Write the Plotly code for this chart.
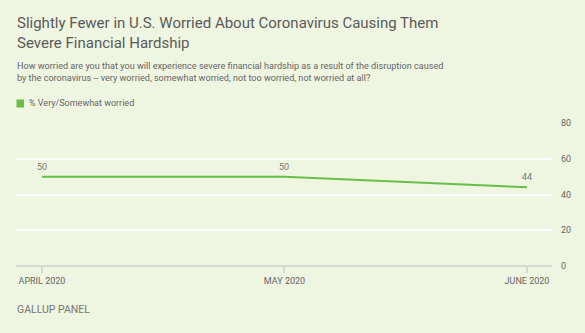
import plotly.graph_objects as go

categories = ["APRIL 2020", "MAY 2020", "JUNE 2020"]
values = [50, 50, 44]
y_ticks = [0, 20, 40, 60, 80]
series_name = "% Very/Somewhat worried"

title_lines = ["Slightly Fewer in U.S. Worried About Coronavirus Causing Them",
               "Severe Financial Hardship"]
subtitle_lines = ["How worried are you that you will experience severe financial hardship as a result of the disruption caused",
                  "by the coronavirus -- very worried, somewhat worried, not too worried, not worried at all?"]
footer = "GALLUP PANEL"

BG = "#EEF5E0"
GREEN = "#66BF48"
TXT = "#666666"
FONT = "Roboto"

xs = list(range(len(categories)))

fig = go.Figure()
fig.add_trace(go.Scatter(
    x=xs, y=values, mode="lines",
    line=dict(color=GREEN, width=2), name=series_name, showlegend=False,
    cliponaxis=False, hoverinfo="skip"))

W, H = 585, 333
ml, mr, mt, mb = 16, 33, 123, 67
PW, PH = W - ml - mr, H - mt - mb

fig.update_layout(
    width=W, height=H, margin=dict(l=ml, r=mr, t=mt, b=mb),
    paper_bgcolor=BG, plot_bgcolor=BG, showlegend=False,
    font=dict(family=FONT, color=TXT),
    xaxis=dict(range=[-0.107, 2.103], tickmode="array",
               tickvals=xs, ticktext=categories,
               showgrid=False, zeroline=False, showline=False,
               ticks="outside", ticklen=6, tickcolor="#D5D9CF", tickwidth=1.5,
               tickfont=dict(family=FONT, size=9, color=TXT), fixedrange=True),
    yaxis=dict(range=[0, 80], side="right", tickmode="array", tickvals=y_ticks,
               showgrid=True, gridcolor="#FFFFFF", gridwidth=1.5,
               zeroline=True, zerolinecolor="#D5D9CF", zerolinewidth=1.5,
               showline=False, ticks="", ticklabelstandoff=8,
               tickfont=dict(family=FONT, size=9, color=TXT), fixedrange=True),
)

def px_x(x):
    return (x - ml) / PW

def px_y(y):
    return (H - mb - y) / PH

annotations = []
for xv, v in zip(xs, values):
    annotations.append(dict(text=str(v), x=xv, y=v, xref="x", yref="y",
                            xanchor="center", yanchor="middle", yshift=10,
                            showarrow=False, font=dict(family=FONT, size=9, color="#777777")))
annotations.append(dict(text="<br>".join(title_lines), x=px_x(15), y=px_y(12), xref="paper", yref="paper",
                        xanchor="left", yanchor="top", align="left", showarrow=False,
                        font=dict(family=FONT, size=15, color="#5A5A5A")))
annotations.append(dict(text="<br>".join(subtitle_lines), x=px_x(15), y=px_y(59), xref="paper", yref="paper",
                        xanchor="left", yanchor="top", align="left", showarrow=False,
                        font=dict(family=FONT, size=9.1, color=TXT)))
annotations.append(dict(text=series_name, x=px_x(27), y=px_y(103.5), xref="paper", yref="paper",
                        xanchor="left", yanchor="middle", showarrow=False,
                        font=dict(family=FONT, size=9, color=TXT)))
annotations.append(dict(text=footer, x=px_x(15), y=px_y(309), xref="paper", yref="paper",
                        xanchor="left", yanchor="middle", showarrow=False,
                        font=dict(family=FONT, size=10.5, color="#777777")))
fig.update_layout(annotations=annotations)

fig.add_shape(type="rect", xref="paper", yref="paper",
              x0=px_x(16.5), x1=px_x(24), y0=px_y(107.5), y1=px_y(99.5),
              fillcolor=GREEN, line=dict(width=0))

fig.write_html("out.html")
